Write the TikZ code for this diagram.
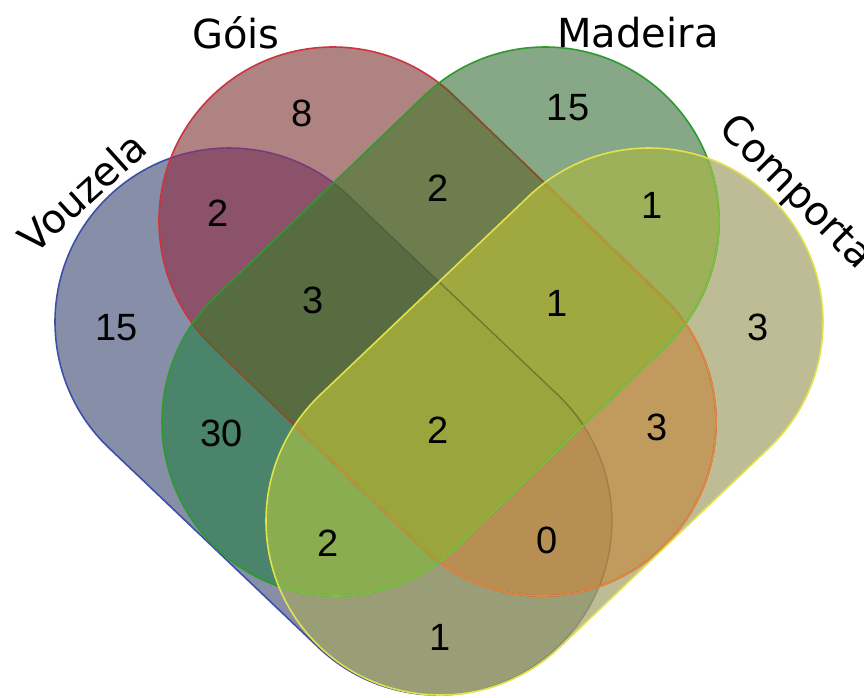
\documentclass[tikz,border=0pt]{standalone}
\usepackage{fontspec}
\setmainfont{DejaVu Sans}
\newfontfamily\numfont{Liberation Sans}
\definecolor{cB}{HTML}{878EA8}
\definecolor{cR}{HTML}{B08383}
\definecolor{cG}{HTML}{87A887}
\definecolor{cY}{HTML}{BEBC94}
\definecolor{cBR}{HTML}{8C5269}
\definecolor{cBG}{HTML}{4A846A}
\definecolor{cBY}{HTML}{9A9E76}
\definecolor{cRG}{HTML}{6E7D4D}
\definecolor{cRY}{HTML}{C19B5E}
\definecolor{cGY}{HTML}{9DB15A}
\definecolor{cBRG}{HTML}{586C42}
\definecolor{cBRY}{HTML}{B78F52}
\definecolor{cBGY}{HTML}{89AD50}
\definecolor{cRGY}{HTML}{A0A840}
\definecolor{cBRGY}{HTML}{9AA63C}
\definecolor{sB}{HTML}{3C50AA}
\definecolor{sBunderR}{HTML}{7A3C78}
\definecolor{sR}{HTML}{CC3440}
\definecolor{sRunderG}{HTML}{74582C}
\definecolor{sRunderY}{HTML}{E08A3C}
\definecolor{sRunderGY}{HTML}{B49A3A}
\definecolor{sG}{HTML}{2E9A2E}
\definecolor{sGunderY}{HTML}{80C040}
\definecolor{sY}{HTML}{E2E24A}
% capsule: x1 y1 x2 y2 angle radius
\newcommand\vcapsule[6]{({#1+#6*cos(#5+90)},{#2+#6*sin(#5+90)}) arc[start angle={#5+90},delta angle=180,radius=#6] -- ({#3+#6*cos(#5-90)},{#4+#6*sin(#5-90)}) arc[start angle={#5-90},delta angle=180,radius=#6] -- cycle}
\newcommand\shpB{\vcapsule{229}{322}{438}{521}{43.6}{174}}
\newcommand\shpY{\vcapsule{649}{322}{440}{521}{136.4}{174}}
\newcommand\shpR{\vcapsule{333}{221}{542}{422}{43.88}{174}}
\newcommand\shpG{\vcapsule{545}{221}{336}{422}{136.12}{174}}
\newcommand\bigbox{(-10,-10) rectangle (880,710)}
\begin{document}
\begin{tikzpicture}[x=1pt,y=-1pt,
  lbl/.style={font=\fontsize{40}{48}\selectfont, inner sep=0pt},
  num/.style={font=\numfont\fontsize{38}{46}\selectfont, inner sep=0pt},
  edgeline/.style={line width=1.6pt},
  faintline/.style={line width=1.4pt, draw=black, draw opacity=0.14}]
\useasboundingbox (0,0) rectangle (864,697);
\fill[white] (0,0) rectangle (864,697);
% single sets
\fill[cB] \shpB;
\fill[cR] \shpR;
\fill[cG] \shpG;
\fill[cY] \shpY;
% pairs
\begin{scope}\clip \shpB; \fill[cBR] \shpR; \end{scope}
\begin{scope}\clip \shpB; \fill[cBG] \shpG; \end{scope}
\begin{scope}\clip \shpB; \fill[cBY] \shpY; \end{scope}
\begin{scope}\clip \shpR; \fill[cRG] \shpG; \end{scope}
\begin{scope}\clip \shpR; \fill[cRY] \shpY; \end{scope}
\begin{scope}\clip \shpG; \fill[cGY] \shpY; \end{scope}
% triples
\begin{scope}\clip \shpB; \clip \shpR; \fill[cBRG] \shpG; \end{scope}
\begin{scope}\clip \shpB; \clip \shpR; \fill[cBRY] \shpY; \end{scope}
\begin{scope}\clip \shpB; \clip \shpG; \fill[cBGY] \shpY; \end{scope}
\begin{scope}\clip \shpR; \clip \shpG; \fill[cRGY] \shpY; \end{scope}
% all four
\begin{scope}\clip \shpB; \clip \shpR; \clip \shpG; \fill[cBRGY] \shpY; \end{scope}
% outlines: Vouzela
\begin{scope}[even odd rule]
  \clip \bigbox \shpG;
  \begin{scope}[even odd rule]
    \clip \bigbox \shpY;
    \begin{scope}[even odd rule]
      \clip \bigbox \shpR;
      \draw[edgeline, sB] \shpB;
    \end{scope}
    \begin{scope}
      \clip \shpR;
      \draw[edgeline, sBunderR] \shpB;
    \end{scope}
  \end{scope}
\end{scope}
\begin{scope}\clip \shpG; \draw[faintline] \shpB; \end{scope}
\begin{scope}\clip \shpY; \draw[faintline] \shpB; \end{scope}
% outlines: Gois
\draw[edgeline, sR] \shpR;
\begin{scope}\clip \shpG; \draw[edgeline, sRunderG] \shpR; \end{scope}
\begin{scope}\clip \shpY; \draw[edgeline, sRunderY] \shpR; \end{scope}
\begin{scope}\clip \shpY; \clip \shpG; \draw[edgeline, sRunderGY] \shpR; \end{scope}
% outlines: Madeira
\draw[edgeline, sG] \shpG;
\begin{scope}\clip \shpY; \draw[edgeline, sGunderY] \shpG; \end{scope}
% outlines: Comporta
\draw[edgeline, sY] \shpY;
% set labels
\node[lbl, rotate=42] (lV) at (82,192) {Vouzela};
\node[lbl, anchor=base] (lG) at (236,48) {Góis};
\node[lbl, anchor=base] (lM) at (638,47) {Madeira};
\node[lbl, rotate=-45] (lC) at (795,193) {Comporta};
% counts
\node[num] (nV) at (117,328) {15};
\node[num] (nG) at (302,113) {8};
\node[num] (nM) at (568,108) {15};
\node[num] (nC) at (758,327) {3};
\node[num] (nVG) at (218,213) {2};
\node[num] (nGM) at (438,188) {2};
\node[num] (nMC) at (652,205) {1};
\node[num] (nVM) at (222,433) {30};
\node[num] (nGC) at (657,427) {3};
\node[num] (nVC) at (440,637) {1};
\node[num] (nVGM) at (313,300) {3};
\node[num] (nGMC) at (557,303) {1};
\node[num] (nVMC) at (328,543) {2};
\node[num] (nVGC) at (547,540) {0};
\node[num] (nAll) at (438,430) {2};
\end{tikzpicture}
\end{document}
